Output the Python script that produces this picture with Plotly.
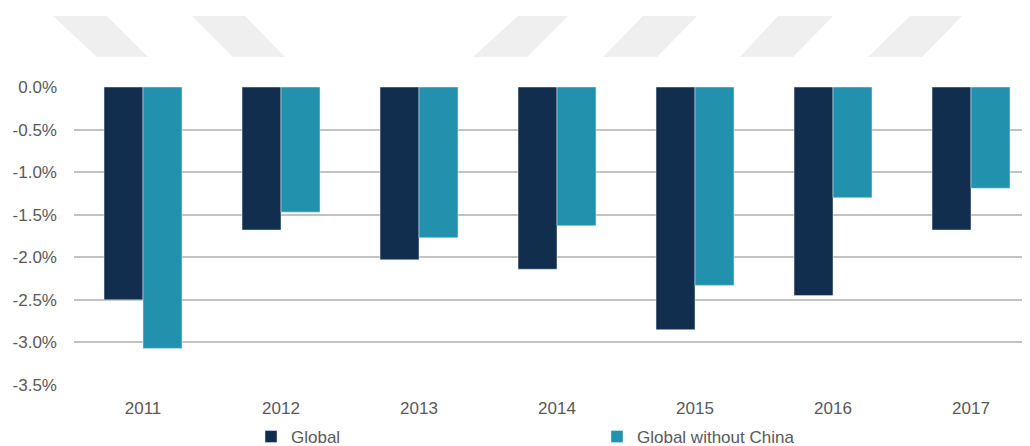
import plotly.graph_objects as go

years = ["2011", "2012", "2013", "2014", "2015", "2016", "2017"]
global_vals = [-2.50, -1.68, -2.03, -2.14, -2.85, -2.45, -1.68]
global_ex_china = [-3.07, -1.47, -1.77, -1.63, -2.33, -1.30, -1.19]
y_ticks = [0, -0.5, -1.0, -1.5, -2.0, -2.5, -3.0, -3.5]
y_ticklabels = ["0.0%", "-0.5%", "-1.0%", "-1.5%", "-2.0%", "-2.5%", "-3.0%", "-3.5%"]

W, H = 1030, 446
OFF = 8  # page body offset
ML, MR, MT, MB = 66, 10, 79, 69
PW, PH = W - ML - MR, H - MT - MB

FONT = "Liberation Sans, Arial, sans-serif"
GRAY = "#595959"

fig = go.Figure()
fig.add_trace(go.Bar(x=years, y=global_vals, name="Global", marker_color="#112e4f"))
fig.add_trace(go.Bar(x=years, y=global_ex_china, name="Global without China", marker_color="#2191ae"))

# decorative parallelograms (window-pixel outlines converted to paper coords)
deco = [
    [(53, 16), (107, 16), (148, 57), (97, 57)],
    [(192, 16), (245, 16), (285, 57), (233, 57)],
    [(518, 16), (568, 16), (527, 57), (473, 57)],
    [(643, 16), (697, 16), (657, 57), (603, 57)],
    [(778, 16), (833, 16), (793, 57), (740, 57)],
    [(910, 16), (962, 16), (922, 57), (868, 57)],
]
shapes = []
for poly in deco:
    pts = [((px - OFF - ML) / PW, (H - MB - (py - OFF)) / PH) for px, py in poly]
    path = "M " + " L ".join(f"{x:.4f},{y:.4f}" for x, y in pts) + " Z"
    shapes.append(dict(type="path", xref="paper", yref="paper", path=path,
                       fillcolor="#efefef", line=dict(width=0), layer="below"))

fig.update_layout(
    width=W, height=H,
    margin=dict(l=ML, r=MR, t=MT, b=MB),
    paper_bgcolor="white", plot_bgcolor="white",
    barmode="group", bargap=0.435, bargroupgap=0,
    font=dict(family=FONT, size=17, color=GRAY),
    shapes=shapes,
    xaxis=dict(range=[-0.5, 6.413], showgrid=False, showline=False, ticks="",
               tickfont=dict(size=17, color=GRAY), automargin=False,
               ticklabelstandoff=11),
    yaxis=dict(range=[-3.5, 0], tickvals=y_ticks, ticktext=y_ticklabels,
               showgrid=True, gridcolor="#c2c2c2", gridwidth=1.5, zeroline=False,
               tickfont=dict(size=17, color=GRAY), ticks="", ticklen=0,
               automargin=False, ticklabelstandoff=16),
    legend=dict(orientation="h", x=(251 - OFF - ML) / PW, xanchor="left",
                yref="container", y=1 - (437 - OFF) / H, yanchor="middle",
                entrywidth=301, entrywidthmode="pixels",
                font=dict(size=17, color=GRAY), traceorder="normal",
                bgcolor="rgba(0,0,0,0)"),
    showlegend=True,
)

fig.write_html("out.html")
